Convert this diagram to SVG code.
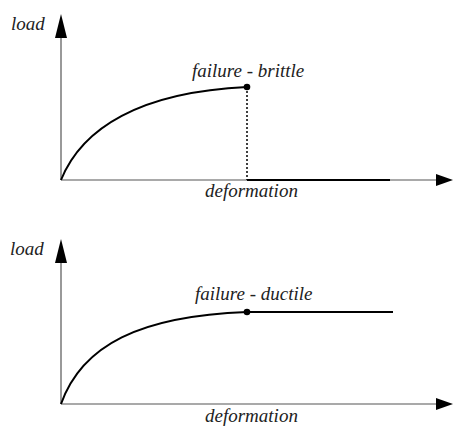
<svg xmlns="http://www.w3.org/2000/svg" width="453" height="427" viewBox="0 0 453 427">
<style>
.axis{stroke:#555;stroke-width:1.2;fill:none}
.curve{stroke:#000;stroke-width:2;fill:none}
.head{fill:#000}
.lbl{font-family:'Liberation Serif','Times New Roman',serif;font-style:italic;font-size:19px;fill:#222}
</style>
<rect width="453" height="427" fill="#fff"/>
<g id="chart-brittle">
<g id="axes-top">
<line class="axis" x1="61" y1="180" x2="61" y2="36"/>
<polygon class="head" points="61,14 55,38 67,38"/>
<line class="axis" x1="61" y1="180" x2="438" y2="180"/>
<polygon class="head" points="453,180 436,174 436,186"/>
</g>
<text class="lbl" x="11" y="30">load</text>
<text class="lbl" x="205" y="197">deformation</text>
<g id="brittle-curve">
<path class="curve" d="M61,180 C82,128 140,92 247,87"/>
<line x1="247" y1="87" x2="247" y2="180" stroke="#000" stroke-width="1.5" stroke-dasharray="2,2"/>
<line class="curve" x1="247" y1="180" x2="390" y2="180"/>
<circle cx="247" cy="87" r="3.3" fill="#000"/>
</g>
<text class="lbl" x="192" y="77">failure - brittle</text>
</g>
<g id="chart-ductile">
<g id="axes-bottom">
<line class="axis" x1="61" y1="404" x2="61" y2="261"/>
<polygon class="head" points="61,239 55,263 67,263"/>
<line class="axis" x1="61" y1="404" x2="438" y2="404"/>
<polygon class="head" points="453,404 436,398 436,410"/>
</g>
<text class="lbl" x="10" y="255">load</text>
<text class="lbl" x="205" y="422">deformation</text>
<g id="ductile-curve">
<path class="curve" d="M61,404 C82,345 140,316 247,312"/>
<line class="curve" x1="247" y1="312" x2="393" y2="312"/>
<circle cx="247" cy="312" r="3.3" fill="#000"/>
</g>
<text class="lbl" x="195" y="300">failure - ductile</text>
</g>
</svg>
